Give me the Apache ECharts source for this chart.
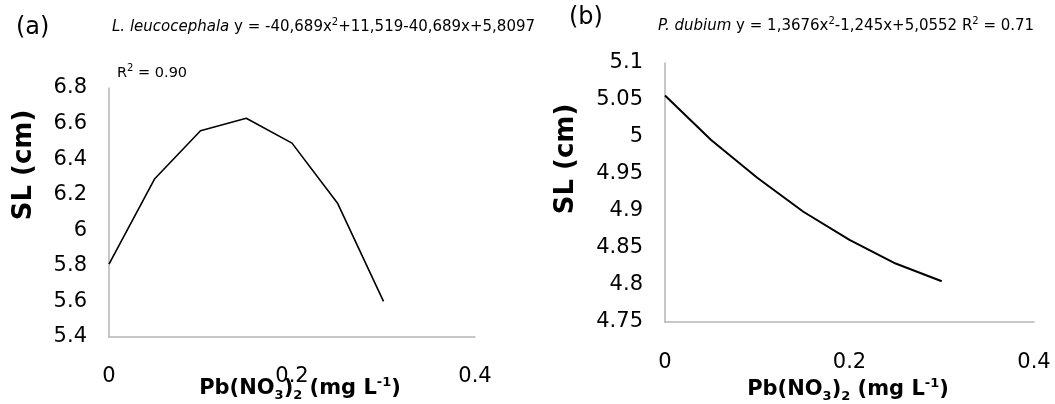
<!DOCTYPE html>
<html>
<head>
<meta charset="utf-8">
<script src="https://cdn.jsdelivr.net/npm/echarts@6/dist/echarts.min.js"></script>
<style>
html,body{margin:0;padding:0;background:#fff;}
#chart{width:1055px;height:404px;}
</style>
</head>
<body>
<div id="chart"></div>
<script>
const xValues = [0, 0.05, 0.1, 0.15, 0.2, 0.25, 0.3];
const leucocephala = [5.81, 6.29, 6.56, 6.63, 6.49, 6.15, 5.60];
const dubium = [5.056, 4.996, 4.945, 4.899, 4.861, 4.829, 4.805];
const xTicks = [0, 0.2, 0.4];
const yTicksA = [5.4, 5.6, 5.8, 6, 6.2, 6.4, 6.6, 6.8];
const yTicksB = [4.75, 4.8, 4.85, 4.9, 4.95, 5, 5.05, 5.1];

const FONT = '"DejaVu Sans", "Liberation Sans", Arial, sans-serif';
const chart = echarts.init(document.getElementById('chart'), null, {renderer: 'canvas'});

function pairs(xs, ys) { return xs.map((x, i) => [x, ys[i]]); }

const axisLineStyle = {show: true, lineStyle: {color: '#b5b5b5', width: 1.5}};
function xAxis(gridIndex, margin) {
  return {
    type: 'value', gridIndex, min: xTicks[0], max: xTicks[xTicks.length - 1],
    interval: xTicks[1] - xTicks[0],
    axisLine: axisLineStyle, axisTick: {show: false}, splitLine: {show: false},
    axisLabel: {color: '#000', fontSize: 21, fontFamily: FONT, margin: margin}
  };
}
function yAxis(gridIndex, ticks) {
  return {
    type: 'value', gridIndex, min: ticks[0], max: ticks[ticks.length - 1],
    interval: +(ticks[1] - ticks[0]).toFixed(4),
    axisLine: axisLineStyle, axisTick: {show: false}, splitLine: {show: false},
    axisLabel: {color: '#000', fontSize: 21, fontFamily: FONT, margin: 22}
  };
}

const rich = {
  n: {fontSize: 15, fontFamily: FONT, color: '#000', lineHeight: 20},
  i: {fontSize: 15, fontFamily: FONT, color: '#000', fontStyle: 'italic', lineHeight: 20},
  s: {fontSize: 10, fontFamily: FONT, color: '#000', verticalAlign: 'top', lineHeight: 12}
};
const richR = {
  n: {fontSize: 14.5, fontFamily: FONT, color: '#000', lineHeight: 20},
  s: {fontSize: 10, fontFamily: FONT, color: '#000', verticalAlign: 'top', lineHeight: 12}
};
const yNameRich = {
  b: {fontSize: 26, fontWeight: 'bold', fontFamily: FONT, color: '#000', lineHeight: 30}
};
const xNameRich = {
  b: {fontSize: 21, fontWeight: 'bold', fontFamily: FONT, color: '#000', lineHeight: 26},
  sub: {fontSize: 13, fontWeight: 'bold', fontFamily: FONT, color: '#000', verticalAlign: 'bottom', lineHeight: 13},
  sup: {fontSize: 13, fontWeight: 'bold', fontFamily: FONT, color: '#000', verticalAlign: 'top', lineHeight: 13}
};
const xName = '{b|Pb(NO}{sub|3}{b|)}{sub|2}{b| (mg L}{sup|-1}{b|)}';

function txt(x, y, text, richStyle, align, rotation) {
  return {
    type: 'text', x, y, rotation: rotation || 0,
    style: {text, rich: richStyle, align: align || 'left', verticalAlign: 'middle'}
  };
}

chart.setOption({
  animation: false,
  backgroundColor: '#fff',
  grid: [
    {left: 109, top: 88, width: 366, height: 249},
    {left: 665, top: 63, width: 369, height: 259}
  ],
  xAxis: [xAxis(0, 29), xAxis(1, 30)],
  yAxis: [yAxis(0, yTicksA), yAxis(1, yTicksB)],
  series: [
    {type: 'line', xAxisIndex: 0, yAxisIndex: 0, data: pairs(xValues, leucocephala),
     showSymbol: false, lineStyle: {color: '#000', width: 1.6}},
    {type: 'line', xAxisIndex: 1, yAxisIndex: 1, data: pairs(xValues, dubium),
     showSymbol: false, lineStyle: {color: '#000', width: 2}}
  ],
  graphic: [
    {type: 'text', x: 16, y: 28, style: {text: '(a)', font: '24px ' + FONT, fill: '#000', verticalAlign: 'middle'}},
    {type: 'text', x: 569, y: 18, style: {text: '(b)', font: '24px ' + FONT, fill: '#000', verticalAlign: 'middle'}},
    txt(112, 27, '{i|L. leucocephala}{n| y = -40,689x}{s|2}{n|+11,519-40,689x+5,8097}', rich),
    txt(117, 73, '{n|R}{s|2}{n| = 0.90}', richR),
    txt(658, 26, '{i|P. dubium}{n| y = 1,3676x}{s|2}{n|-1,245x+5,0552 R}{s|2}{n| = 0.71}', rich),
    txt(24, 165, '{b|SL (cm)}', yNameRich, 'center', Math.PI / 2),
    txt(566, 159, '{b|SL (cm)}', yNameRich, 'center', Math.PI / 2),
    txt(300, 389, xName, xNameRich, 'center'),
    txt(848, 390, xName, xNameRich, 'center')
  ]
});
</script>
</body>
</html>
